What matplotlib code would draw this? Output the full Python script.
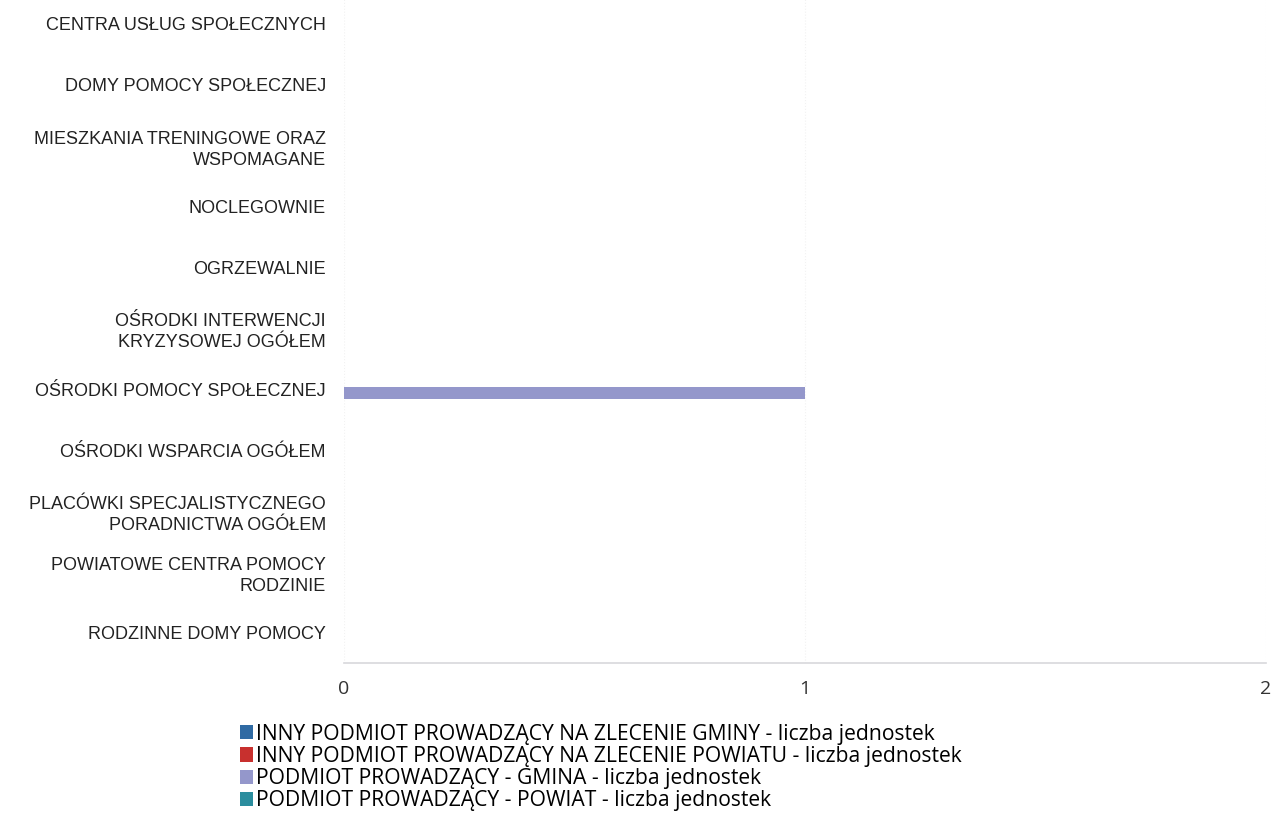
import matplotlib
matplotlib.use("Agg")
import matplotlib.pyplot as plt
from matplotlib.patches import Patch
import numpy as np

categories = [
    "CENTRA USŁUG SPOŁECZNYCH",
    "DOMY POMOCY SPOŁECZNEJ",
    "MIESZKANIA TRENINGOWE ORAZ\nWSPOMAGANE",
    "NOCLEGOWNIE",
    "OGRZEWALNIE",
    "OŚRODKI INTERWENCJI\nKRYZYSOWEJ OGÓŁEM",
    "OŚRODKI POMOCY SPOŁECZNEJ",
    "OŚRODKI WSPARCIA OGÓŁEM",
    "PLACÓWKI SPECJALISTYCZNEGO\nPORADNICTWA OGÓŁEM",
    "POWIATOWE CENTRA POMOCY\nRODZINIE",
    "RODZINNE DOMY POMOCY",
]

series_names = [
    "INNY PODMIOT PROWADZĄCY NA ZLECENIE GMINY - liczba jednostek",
    "INNY PODMIOT PROWADZĄCY NA ZLECENIE POWIATU - liczba jednostek",
    "PODMIOT PROWADZĄCY - GMINA - liczba jednostek",
    "PODMIOT PROWADZĄCY - POWIAT - liczba jednostek",
]
inny_gmina = [0, 0, 0, 0, 0, 0, 0, 0, 0, 0, 0]
inny_powiat = [0, 0, 0, 0, 0, 0, 0, 0, 0, 0, 0]
gmina = [0, 0, 0, 0, 0, 0, 1, 0, 0, 0, 0]
powiat = [0, 0, 0, 0, 0, 0, 0, 0, 0, 0, 0]
colors = ["#2f6aa3", "#c8302e", "#9497cb", "#2b8d9e"]

x_ticks = [0, 1, 2]

fig = plt.figure(figsize=(12.74, 8.13), dpi=100)
ax = fig.add_axes([0.270, 0.184, 0.7237, 0.824])

y = np.arange(len(categories))
n = len(series_names)
slot = 0.2
for k, vals in enumerate([inny_gmina, inny_powiat, gmina, powiat]):
    off = (k - (n - 1) / 2) * slot * 0.55
    ax.barh(y + off, vals, height=slot, color=colors[k], edgecolor="none")

ax.set_ylim(len(categories) - 0.5, -0.5)
ax.set_xlim(0, 2)
ax.set_yticks(y)
ax.set_yticklabels(categories, fontsize=13, family="Liberation Sans",
                   color="#222222", linespacing=1.3)
ax.set_xticks(x_ticks)
ax.set_xticklabels([str(t) for t in x_ticks], fontsize=14,
                   family="Open Sans", color="#333333")
ax.tick_params(axis="y", length=0, pad=13)
ax.tick_params(axis="x", length=0, pad=12)
ax.grid(axis="x", color="#f2f2f2", linewidth=0.8, linestyle=":")
ax.set_axisbelow(True)
for name, sp in ax.spines.items():
    sp.set_visible(False)
ax.spines["bottom"].set_visible(True)
ax.spines["bottom"].set_color("#d8d8dc")
ax.spines["bottom"].set_linewidth(1.2)

handles = [Patch(facecolor=c, edgecolor="none") for c in colors]
fig.legend(handles, series_names, loc="upper left",
           bbox_to_anchor=(0.188, 0.110), frameon=False,
           prop={"family": "Open Sans", "size": 15.2},
           handlelength=0.66, handleheight=0.66, handletextpad=0.12,
           labelspacing=0.06, borderpad=0, borderaxespad=0)

fig.savefig("out.png", dpi=100)
